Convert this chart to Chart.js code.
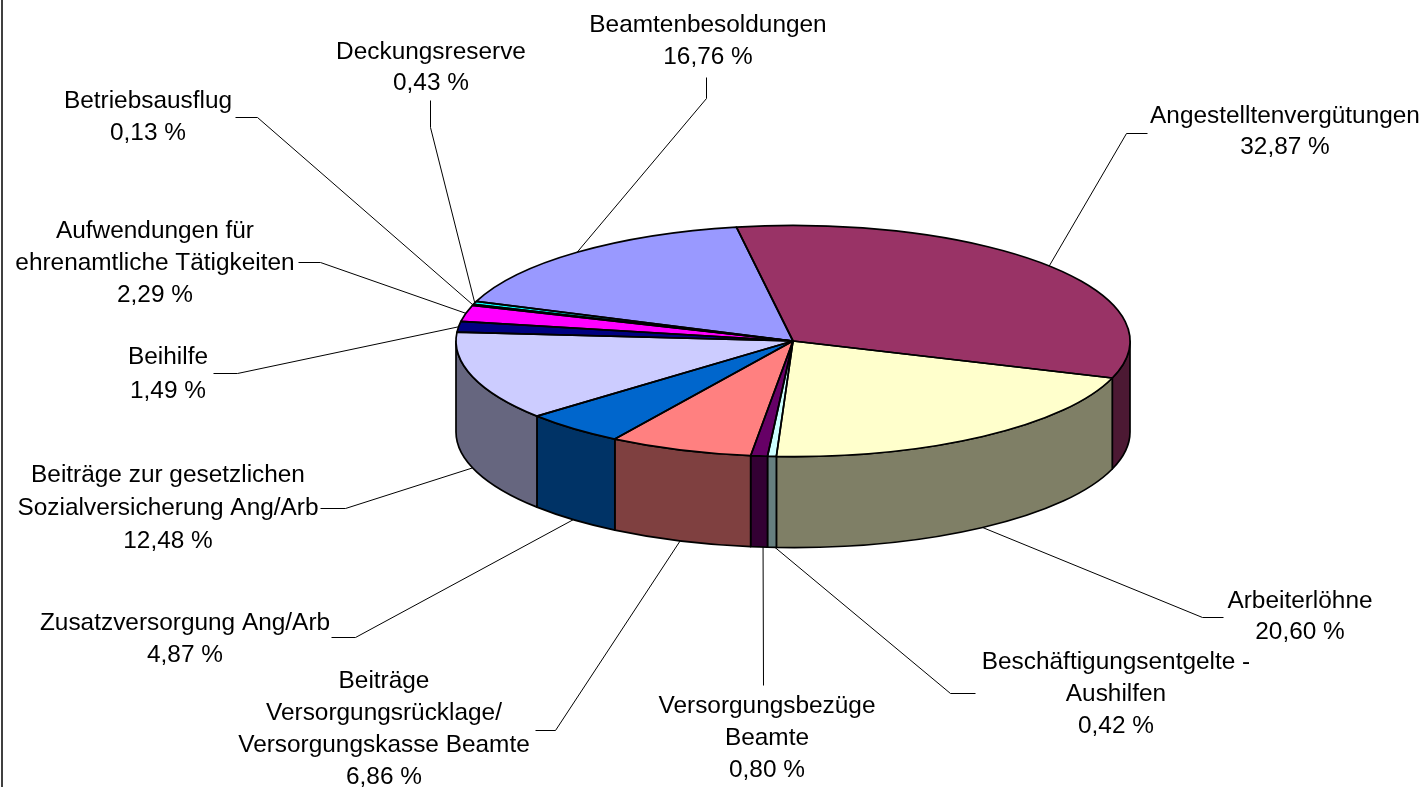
<!DOCTYPE html>
<html>
<head>
<meta charset="utf-8">
<title>Personalaufwendungen</title>
<script src="https://cdn.jsdelivr.net/npm/chart.js@4"></script>
<style>
html, body { margin: 0; padding: 0; background: #fff; overflow: hidden; }
#frame { position: absolute; left: 1px; top: 0; width: 2px; height: 787px; background: #404040; }
#chartPie { position: absolute; left: 0; top: 0; }
</style>
</head>
<body>
<canvas id="chartPie" width="1425" height="787"></canvas>
<div id="frame"></div>
<script>
var categories = [
    ["Beamtenbesoldungen"],
    ["Angestelltenvergütungen"],
    ["Arbeiterlöhne"],
    ["Beschäftigungsentgelte -", "Aushilfen"],
    ["Versorgungsbezüge", "Beamte"],
    ["Beiträge", "Versorgungsrücklage/", "Versorgungskasse Beamte"],
    ["Zusatzversorgung Ang/Arb"],
    ["Beiträge zur gesetzlichen", "Sozialversicherung Ang/Arb"],
    ["Beihilfe"],
    ["Aufwendungen für", "ehrenamtliche Tätigkeiten"],
    ["Betriebsausflug"],
    ["Deckungsreserve"]
];
var values = [16.76, 32.87, 20.60, 0.42, 0.80, 6.86, 4.87, 12.48, 1.49, 2.29, 0.13, 0.43];
var valueLabels = ["16,76 %", "32,87 %", "20,60 %", "0,42 %", "0,80 %", "6,86 %", "4,87 %", "12,48 %", "1,49 %", "2,29 %", "0,13 %", "0,43 %"];
var colors = ["#9999FF", "#993366", "#FFFFCC", "#CCFFFF", "#660066", "#FF8080", "#0066CC", "#CCCCFF", "#000080", "#FF00FF", "#FFFF00", "#00FFFF"];

// label placement: centre x, first line y, line height, leader elbow and leader end
var labelCfg = [
    { x: 708, y: 25, lh: 32, elbow: [706, 98], end: [706, 77] },
    { x: 1285, y: 116, lh: 31, elbow: [1126, 133], end: [1147, 133] },
    { x: 1300, y: 601, lh: 31, elbow: [1202, 617], end: [1223, 617] },
    { x: 1116, y: 662, lh: 32, dx: 3, elbow: [950, 693], end: [975, 693] },
    { x: 767, y: 706, lh: 32, dx: 4, elbow: [763, 685], end: [763, 685] },
    { x: 384, y: 681, lh: 32, elbow: [555, 730], end: [535, 730] },
    { x: 185, y: 623, lh: 32, elbow: [355, 637], end: [331, 637] },
    { x: 168, y: 475, lh: 33, elbow: [345, 508], end: [320, 508] },
    { x: 168, y: 357, lh: 34, elbow: [237, 373], end: [213, 373] },
    { x: 155, y: 231, lh: 32, elbow: [320, 262], end: [298, 262] },
    { x: 148, y: 101, lh: 32, elbow: [257, 117], end: [235, 117] },
    { x: 431, y: 52, lh: 31, elbow: [430, 127], end: [430, 100] }
];

var squash = 0.343;
var depth = 91;
var fontCss = '24.4px "Liberation Sans", Arial, sans-serif';

function oscurecer(hex) {
    var n = parseInt(hex.slice(1), 16);
    return 'rgb(' + ((n >> 16) >> 1) + ',' + (((n >> 8) & 255) >> 1) + ',' + ((n & 255) >> 1) + ')';
}

// wall segment of one slice, only the part facing the viewer
function caminoLateral(ctx, arc) {
    var ini = Math.atan2(Math.sin(arc.startAngle), Math.cos(arc.startAngle));
    var fin = ini + (arc.endAngle - arc.startAngle);
    var a0 = Math.max(ini, 0), a1 = Math.min(fin, Math.PI);
    if (a1 <= a0) {
        return false;
    }
    var ry = arc.outerRadius * squash;
    ctx.beginPath();
    ctx.ellipse(arc.x, arc.y, arc.outerRadius, ry, 0, a0, a1);
    ctx.ellipse(arc.x, arc.y + depth, arc.outerRadius, ry, 0, a1, a0, true);
    ctx.closePath();
    return true;
}

var pie3d = {
    id: 'pie3d',
    beforeDatasetsDraw: function(chart) {
        var ctx = chart.ctx;
        chart.getDatasetMeta(0).data.forEach(function(arc, i) {
            if (caminoLateral(ctx, arc)) {
                ctx.fillStyle = oscurecer(colors[i]);
                ctx.strokeStyle = '#000';
                ctx.lineWidth = 1.7;
                ctx.lineJoin = 'round';
                ctx.fill();
                ctx.stroke();
            }
        });
    },
    beforeDatasetDraw: function(chart) {
        var arc = chart.getDatasetMeta(0).data[0];
        var ctx = chart.ctx;
        ctx.save();
        ctx.translate(0, arc.y);
        ctx.scale(1, squash);
        ctx.translate(0, -arc.y);
    },
    afterDatasetDraw: function(chart) {
        chart.ctx.restore();
    },
    afterDatasetsDraw: function(chart) {
        var ctx = chart.ctx;
        var meta = chart.getDatasetMeta(0);

        meta.data.forEach(function(arc) {
            ctx.beginPath();
            ctx.ellipse(arc.x, arc.y, arc.outerRadius, arc.outerRadius * squash, 0, arc.startAngle, arc.endAngle);
            ctx.lineTo(arc.x, arc.y);
            ctx.closePath();
            ctx.strokeStyle = '#000';
            ctx.lineWidth = 1.7;
            ctx.lineJoin = 'round';
            ctx.stroke();
        });

        meta.data.forEach(function(arc, i) {
            var cfg = labelCfg[i];
            var mid = (arc.startAngle + arc.endAngle) / 2;
            var px = arc.x + arc.outerRadius * Math.cos(mid) + (cfg.dx || 0);
            var py = arc.y + arc.outerRadius * squash * Math.sin(mid);
            if (Math.sin(mid) > 0) {
                py += depth;
            }
            ctx.beginPath();
            ctx.moveTo(px, py);
            ctx.lineTo(cfg.elbow[0] + 0.5, cfg.elbow[1] + 0.5);
            ctx.lineTo(cfg.end[0] + 0.5, cfg.end[1] + 0.5);
            ctx.strokeStyle = '#000';
            ctx.lineWidth = 1;
            ctx.stroke();

            ctx.fillStyle = '#000';
            ctx.font = fontCss;
            ctx.textAlign = 'center';
            ctx.textBaseline = 'middle';
            categories[i].concat(valueLabels[i]).forEach(function(linea, j) {
                ctx.fillText(linea, cfg.x, cfg.y + j * cfg.lh);
            });
        });
    }
};

new Chart(document.getElementById('chartPie'), {
    type: 'pie',
    data: {
        labels: categories.map(function(c) { return c.join(' '); }),
        datasets: [{
            data: values,
            backgroundColor: colors,
            borderWidth: 0,
            clip: false
        }]
    },
    options: {
        responsive: false,
        animation: false,
        rotation: -70,
        radius: 337,
        layout: { padding: { left: 161, right: 0, top: 0, bottom: 105 } },
        plugins: { legend: { display: false }, tooltip: { enabled: false } }
    },
    plugins: [pie3d]
});
</script>
</body>
</html>
